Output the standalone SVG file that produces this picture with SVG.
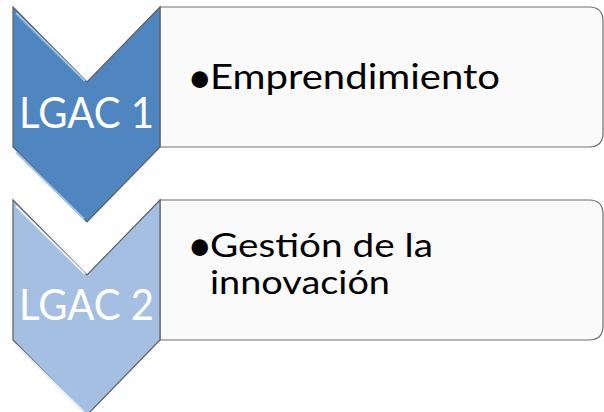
<svg xmlns="http://www.w3.org/2000/svg" width="604" height="412" viewBox="0 0 604 412">
<style>
.box{fill:#fafafa;stroke:#6e6e6e;stroke-width:1.2}
.chev{stroke:#5f5f5f;stroke-width:1.2}
.c1{fill:#4f86bf}
.c2{fill:#a4bfe2}
.hl1{stroke:#9cc3ee;stroke-width:2;fill:none}
.hl2{stroke:#e6f0fb;stroke-width:2;fill:none}
.lab{font-family:Lato,"Liberation Sans",sans-serif;font-size:42px;fill:#ffffff}
.txt{font-family:Lato,"Liberation Sans",sans-serif;font-size:35px;fill:#000000}
.t2{font-size:33px}
.bul{font-size:44px}
</style>
<rect width="604" height="412" fill="#ffffff"/>
<g id="box1">
<path class="box" d="M160,7 H589 Q603,7 603,21 V133 Q603,147 589,147 H160 Z"/>
<text class="txt" y="89"><tspan class="bul" x="187" dy="4">•</tspan><tspan x="210" dy="-4" textLength="290" lengthAdjust="spacingAndGlyphs">Emprendimiento</tspan></text>
</g>
<g id="box2">
<path class="box" d="M160,200 H589 Q603,200 603,214 V326 Q603,340 589,340 H160 Z"/>
<text class="txt t2" y="257"><tspan class="bul" x="187" dy="4">•</tspan><tspan x="210" dy="-4" textLength="223" lengthAdjust="spacingAndGlyphs">Gestión de la</tspan><tspan x="210" y="294" textLength="180" lengthAdjust="spacingAndGlyphs">innovación</tspan></text>
</g>
<g id="lgac1">
<path class="chev c1" d="M13,7 L87,82 L160,7 V147 L87,222 L13,147 Z"/>
<path class="hl1" d="M16,13 L85,81 M16,152 L84,219"/>
<text class="lab" x="19" y="128" textLength="135" lengthAdjust="spacingAndGlyphs">LGAC 1</text>
</g>
<g id="lgac2">
<path class="chev c2" d="M13,200 L87,275 L160,200 V340 L87,415 L13,340 Z"/>
<path class="hl2" d="M16,206 L85,274 M16,345 L84,412"/>
<text class="lab" x="19" y="320" textLength="135" lengthAdjust="spacingAndGlyphs">LGAC 2</text>
</g>
<g id="connectors"></g>
</svg>
